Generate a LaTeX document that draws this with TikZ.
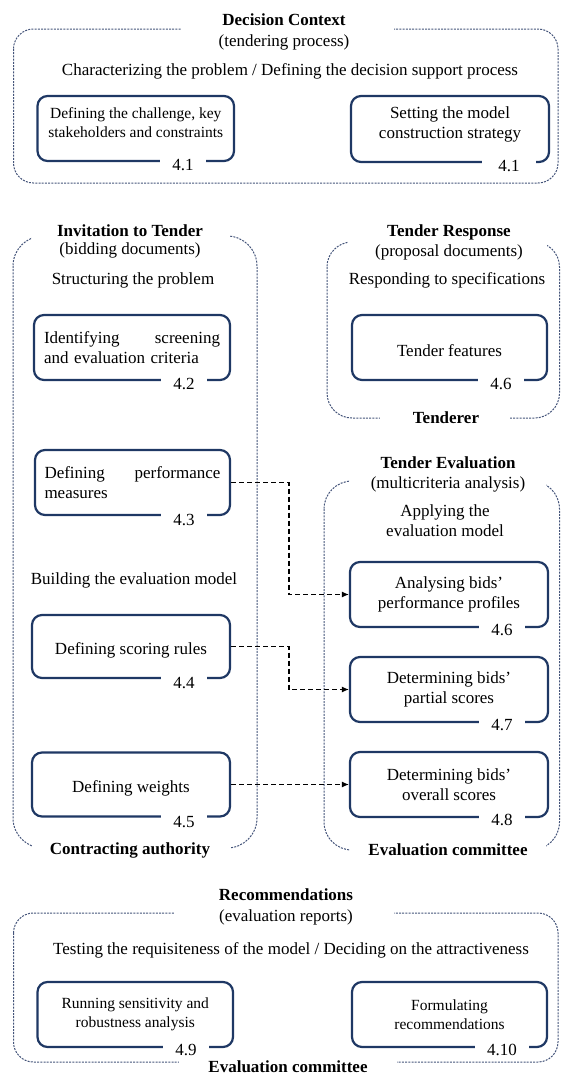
\documentclass[tikz,border=0pt]{standalone}
\usepackage{fontspec}
\setmainfont{Liberation Serif}
\usetikzlibrary{arrows.meta}
\definecolor{boxc}{HTML}{1F3864}
\definecolor{contc}{HTML}{44547A}
\newcommand\myfn{\fontsize{17}{20}\selectfont}
\newcommand\myfs{\fontsize{15.5}{19}\selectfont}
\begin{document}
\begin{tikzpicture}[x=1pt,y=-1pt,
  cont/.style={draw=contc, line width=1pt, dash pattern=on 2pt off 1.2pt},
  gapfill/.style={fill=white},
  box/.style={draw=boxc, line width=2.2pt, rounded corners=10pt, align=center, font=\myfn, inner sep=3pt},
  onebox/.style={box, text height=19pt},
  sbox/.style={box, font=\myfs},
  lbl/.style={fill=white, inner xsep=12pt, inner ysep=1pt, font=\myfn},
  txt/.style={font=\myfn, inner sep=0pt, align=center},
  ttl/.style={font=\myfn\bfseries, inner sep=0pt},
  conn/.style={draw=black, line width=1.1pt, dash pattern=on 5pt off 3pt, -{Latex[length=7pt,width=6pt]}}
]
\useasboundingbox (0,0) rectangle (561,1079);

% containers
\draw[cont, rounded corners=20pt] (13.5,29) rectangle (558,183);
\fill[gapfill] (181,24) rectangle (394,34);

\draw[cont, rounded corners=30pt] (13,236) rectangle (257,848);
\fill[gapfill] (32,226) rectangle (230,244);
\fill[gapfill] (32,842) rectangle (230,856);

\draw[cont, rounded corners=25pt] (327,242) rectangle (559.5,418);
\fill[gapfill] (348,236) rectangle (547,248);
\fill[gapfill] (380,412) rectangle (510,424);

\draw[cont, rounded corners=28pt] (324,481) rectangle (559.5,850);
\fill[gapfill] (350,474) rectangle (546,488);
\fill[gapfill] (350,844) rectangle (546,856);

\draw[cont, rounded corners=20pt] (13.5,913) rectangle (558,1062);
\fill[gapfill] (174,907) rectangle (394,919);
\fill[gapfill] (179,1056) rectangle (397,1068);

% titles and headings
\node[ttl] (t1) at (284,20) {Decision Context};
\node[txt] (t1s) at (284,42) {(tendering process)};
\node[txt] (t1d) at (290,71) {Characterizing the problem / Defining the decision support process};

\node[ttl] (t2) at (130,231) {Invitation to Tender};
\node[txt] (t2s) at (130,250) {(bidding documents)};
\node[txt] (t2d) at (133,280) {Structuring the problem};
\node[txt] (t2e) at (134,580) {Building the evaluation model};
\node[ttl] (t2f) at (130,850) {Contracting authority};

\node[ttl] (t3) at (449,232) {Tender Response};
\node[txt] (t3s) at (449,252) {(proposal documents)};
\node[txt] (t3d) at (447,280) {Responding to specifications};
\node[ttl] (t3f) at (446,418) {Tenderer};

\node[ttl] (t4) at (448,463) {Tender Evaluation};
\node[txt] (t4s) at (448,484) {(multicriteria analysis)};
\node[txt] (t4d) at (445,521) {Applying the\\evaluation model};
\node[ttl] (t4f) at (448,850) {Evaluation committee};

\node[ttl] (t5) at (286,895) {Recommendations};
\node[txt] (t5s) at (286,917) {(evaluation reports)};
\node[txt] (t5d) at (291,950) {Testing the requisiteness of the model / Deciding on the attractiveness};
\node[ttl] (t5f) at (288,1067) {Evaluation committee};

% boxes
\node[sbox, minimum width=196.5pt, minimum height=65pt] (b41a) at (135.75,128.5) {Defining the challenge, key\\stakeholders and constraints\\[-8pt]\mbox{}};
\node[box, minimum width=198pt, minimum height=66pt] (b41b) at (450,129) {Setting the model\\construction strategy\\[-8pt]\mbox{}};
\node[box, minimum width=196pt, minimum height=65pt, text width=176pt, align=left] (b42) at (132,347.5) {Identifying\hfill screening\\and evaluation criteria};
\node[box, minimum width=195pt, minimum height=65pt, text width=176pt, align=left] (b43) at (132.5,482.5) {Defining\hfill performance\\measures};
\node[onebox, minimum width=198pt, minimum height=63pt] (b44) at (131,646.5) {Defining scoring rules};
\node[onebox, minimum width=198pt, minimum height=64pt] (b45) at (131,784.5) {Defining weights};
\node[onebox, minimum width=195pt, minimum height=65pt] (btf) at (449.5,347.5) {Tender features};
\node[box, minimum width=198pt, minimum height=65pt] (b46) at (449,594.5) {Analysing bids’\\performance profiles};
\node[box, minimum width=198pt, minimum height=65pt] (b47) at (449,689.5) {Determining bids’\\partial scores};
\node[box, minimum width=198pt, minimum height=65pt] (b48) at (449,784.5) {Determining bids’\\overall scores};
\node[sbox, minimum width=195.5pt, minimum height=65pt] (b49) at (135.25,1014.5) {Running sensitivity and\\robustness analysis};
\node[sbox, minimum width=195pt, minimum height=65pt] (b410) at (449.5,1014.5) {Formulating\\recommendations};

% section labels
\node[lbl, xshift=-52pt, yshift=-3pt] (l41a) at (b41a.south east) {4.1};
\node[lbl, inner xsep=16pt, xshift=-41pt, yshift=-3pt] (l41b) at (b41b.south east) {4.1};
\node[lbl, xshift=-47pt, yshift=-3pt] (l42) at (b42.south east) {4.2};
\node[lbl, xshift=-47pt, yshift=-4pt] (l43) at (b43.south east) {4.3};
\node[lbl, xshift=-47pt, yshift=-4pt] (l44) at (b44.south east) {4.4};
\node[lbl, xshift=-47pt, yshift=-4pt] (l45) at (b45.south east) {4.5};
\node[lbl, xshift=-47pt, yshift=-3pt] (ltf) at (btf.south east) {4.6};
\node[lbl, xshift=-47pt, yshift=-2pt] (l46) at (b46.south east) {4.6};
\node[lbl, xshift=-47pt, yshift=-2pt] (l47) at (b47.south east) {4.7};
\node[lbl, xshift=-47pt, yshift=-2pt] (l48) at (b48.south east) {4.8};
\node[lbl, xshift=-48pt, yshift=-2pt] (l49) at (b49.south east) {4.9};
\node[lbl, xshift=-46pt, yshift=-2pt] (l410) at (b410.south east) {4.10};

% connectors
\coordinate (vx) at (289,0);
\draw[conn] (b43.east) -- (b43.east -| vx) |- (b46.west);
\draw[conn] (b44.east) -- (b44.east -| vx) |- (b47.west);
\draw[conn] (b45.east) -- (b48.west);
\end{tikzpicture}
\end{document}
